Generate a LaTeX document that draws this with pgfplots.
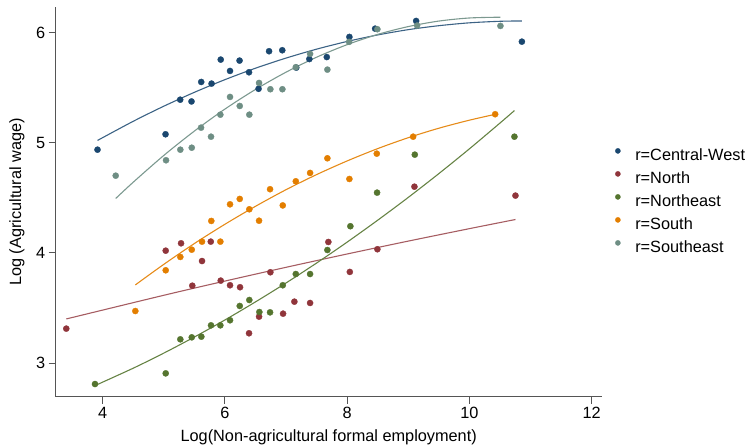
\documentclass[border=0pt]{standalone}
\usepackage{fontspec}
\setmainfont{Liberation Sans}
\usepackage{pgfplots}
\pgfplotsset{compat=1.18}
\definecolor{cw}{RGB}{26,71,111}
\definecolor{no}{RGB}{144,53,59}
\definecolor{ne}{RGB}{85,117,47}
\definecolor{so}{RGB}{227,126,0}
\definecolor{se}{RGB}{110,142,132}
\definecolor{axc}{RGB}{85,85,85}
\begin{document}
\begin{tikzpicture}
\path[use as bounding box] (-55.7pt,-50.3pt) rectangle (691.3pt,396.7pt);
\begin{axis}[
 at={(0pt,0pt)}, anchor=south west,
 scale only axis, width=546pt, height=389.4pt,
 xmin=3.231, xmax=12.164, ymin=2.694, ymax=6.23,
 axis x line*=bottom, axis y line*=left,
 axis line style={axc, line width=0.9pt},
 tick style={axc, line width=0.9pt},
 tick align=outside, major tick length=7pt,
 xtick={4,6,8,10,12}, ytick={3,4,5,6},
 minor tick num=0,
 tick label style={font=\fontsize{16.3}{19}\selectfont},
 /pgf/number format/assume math mode=true,
 xlabel={Log(Non-agricultural formal employment)},
 ylabel={Log (Agricultural wage)},
 label style={font=\fontsize{16.3}{19}\selectfont},
 xlabel style={at={(axis description cs:0.5,-0.1048)}, anchor=center},
 ylabel style={at={(axis description cs:-0.0709,0.5)}, anchor=center},
 legend style={at={(1.0245,0.4987)}, anchor=west, draw=none, fill=none, inner sep=0pt,
   font=\fontsize{16.3}{19}\selectfont, row sep=6pt, column sep=13.8pt,
   nodes={inner sep=1pt, text height=11.5pt, text depth=3.5pt}},
 legend cell align=left,
 legend image code/.code={\draw[#1, mark size=2.6pt] plot coordinates {(0pt,5.6pt)};},
 mks/.style={only marks, mark=*, mark size=3.1pt, mark options={fill=#1, draw=#1, line width=0.3pt, solid}},
 fit/.style={forget plot, #1, line width=1.1pt, smooth},
]
% scatter: Central-West
\addplot[mks=cw] coordinates {
(3.915,4.937) (5.028,5.077) (5.268,5.391) (5.453,5.375) (5.612,5.552) (5.781,5.537)
(5.931,5.755) (6.083,5.652) (6.239,5.746) (6.394,5.640) (6.550,5.490) (6.722,5.831)
(6.938,5.840) (7.167,5.682) (7.381,5.760) (7.666,5.778) (8.036,5.961) (8.457,6.036)
(9.128,6.106) (10.858,5.918)
};
\addlegendentry{r=Central-West}
% North
\addplot[mks=no] coordinates {
(3.404,3.312) (5.031,4.020) (5.282,4.087) (5.466,3.702) (5.625,3.926) (5.768,4.102)
(5.931,3.748) (6.083,3.706) (6.247,3.688) (6.394,3.270) (6.558,3.421) (6.743,3.824)
(6.951,3.448) (7.136,3.557) (7.393,3.545) (7.692,4.099) (8.043,3.827) (8.494,4.033)
(9.100,4.601) (10.753,4.520)
};
\addlegendentry{r=North}
% Northeast
\addplot[mks=ne] coordinates {
(3.874,2.809) (5.031,2.906) (5.270,3.215) (5.457,3.233) (5.614,3.239) (5.772,3.342)
(5.925,3.342) (6.083,3.388) (6.242,3.518) (6.399,3.572) (6.563,3.463) (6.738,3.460)
(6.946,3.706) (7.159,3.808) (7.393,3.808) (7.676,4.026) (8.052,4.242) (8.489,4.547)
(9.106,4.892) (10.736,5.055)
};
\addlegendentry{r=Northeast}
% South
\addplot[mks=so] coordinates {
(4.534,3.472) (5.031,3.842) (5.270,3.963) (5.457,4.029) (5.625,4.102) (5.777,4.290)
(5.925,4.102) (6.083,4.441) (6.242,4.490) (6.399,4.396) (6.558,4.292) (6.738,4.578)
(6.946,4.431) (7.159,4.650) (7.393,4.726) (7.676,4.859) (8.036,4.671) (8.484,4.901)
(9.079,5.055) (10.421,5.259)
};
\addlegendentry{r=South}
% Southeast
\addplot[mks=se] coordinates {
(4.213,4.701) (5.036,4.841) (5.270,4.937) (5.457,4.955) (5.609,5.137) (5.772,5.055)
(5.925,5.255) (6.083,5.416) (6.242,5.334) (6.399,5.255) (6.558,5.543) (6.743,5.486)
(6.940,5.486) (7.159,5.686) (7.393,5.807) (7.676,5.664) (8.031,5.916) (8.494,6.031)
(9.144,6.064) (10.507,6.061)
};
\addlegendentry{r=Southeast}
% fitted lines
\addplot[fit=cw!85!white] coordinates {
(3.915,5.021) (4.5,5.195) (5,5.332) (5.5,5.458) (6,5.573) (6.5,5.677) (7,5.769)
(7.5,5.850) (8,5.920) (8.5,5.979) (9,6.027) (9.5,6.063) (10,6.089) (10.5,6.103) (10.858,6.106)
};
\addplot[fit=no!80!white] coordinates {
(3.404,3.400) (5,3.615) (6,3.744) (7,3.869) (8,3.990) (9,4.107) (10,4.220) (10.753,4.303)
};
\addplot[fit=ne!90!white] coordinates {
(3.874,2.795) (4.5,2.953) (5,3.090) (5.5,3.236) (6,3.391) (6.5,3.555) (7,3.727)
(7.5,3.908) (8,4.098) (8.5,4.297) (9,4.504) (9.5,4.720) (10,4.945) (10.5,5.179) (10.736,5.292)
};
\addplot[fit=so!90!white] coordinates {
(4.534,3.709) (5,3.896) (5.5,4.085) (6,4.260) (6.5,4.423) (7,4.574) (7.5,4.711)
(8,4.835) (8.5,4.947) (9,5.046) (9.5,5.132) (10,5.205) (10.421,5.258)
};
\addplot[fit=se!90!white] coordinates {
(4.213,4.494) (4.5,4.642) (5,4.885) (5.5,5.106) (6,5.306) (6.5,5.484) (7,5.641)
(7.5,5.777) (8,5.891) (8.5,5.984) (9,6.055) (9.5,6.105) (10,6.133) (10.507,6.140)
};
\end{axis}
\end{tikzpicture}
\end{document}
